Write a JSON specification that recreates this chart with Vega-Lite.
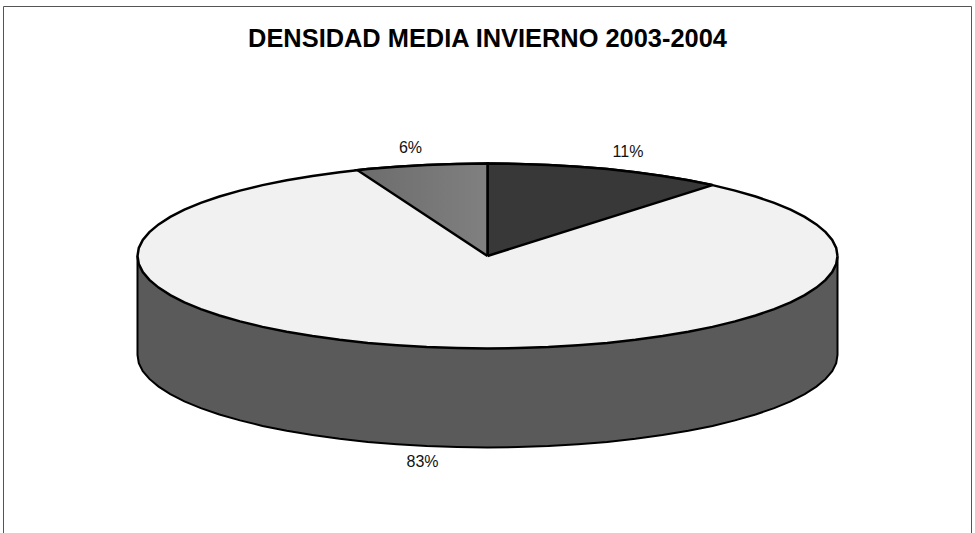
{"$schema":"https://vega.github.io/schema/vega-lite/v6.json","width":975,"height":533,"padding":0,"autosize":"none","background":"white","view":{"stroke":null},
"title":{"text":"DENSIDAD MEDIA INVIERNO 2003-2004","offset":-72.5,"baseline":"alphabetic","anchor":"middle","font":"Liberation Sans","fontSize":25.4,"fontWeight":"bold","color":"black"},
"datasets":{
"labels":[{"label":"11%","share":11,"x":628,"y":157},{"label":"6%","share":6,"x":410.5,"y":152.7},{"label":"83%","share":83,"x":422.5,"y":467.3}],
"frame":[{"s":1,"x":3.5,"y":533},{"s":2,"x":3.5,"y":6.5},{"s":3,"x":971.5,"y":6.5},{"s":4,"x":971.5,"y":533}],
"side":[{"s":0,"x":137.5,"y":256},{"s":1,"x":137.5,"y":355},{"s":2,"x":138.8,"y":363.1},{"s":3,"x":142.8,"y":371.1},{"s":4,"x":149.4,"y":378.9},{"s":5,"x":158.6,"y":386.6},{"s":6,"x":170.3,"y":394.1},{"s":7,"x":184.4,"y":401.3},{"s":8,"x":200.8,"y":408.1},{"s":9,"x":219.4,"y":414.5},{"s":10,"x":240,"y":420.4},{"s":11,"x":262.5,"y":425.9},{"s":12,"x":286.7,"y":430.8},{"s":13,"x":312.5,"y":435.1},{"s":14,"x":339.6,"y":438.8},{"s":15,"x":367.8,"y":441.9},{"s":16,"x":396.9,"y":444.3},{"s":17,"x":426.7,"y":446.1},{"s":18,"x":457,"y":447.1},{"s":19,"x":487.5,"y":447.5},{"s":20,"x":518,"y":447.1},{"s":21,"x":548.3,"y":446.1},{"s":22,"x":578.1,"y":444.3},{"s":23,"x":607.2,"y":441.9},{"s":24,"x":635.4,"y":438.8},{"s":25,"x":662.5,"y":435.1},{"s":26,"x":688.3,"y":430.8},{"s":27,"x":712.5,"y":425.9},{"s":28,"x":735,"y":420.4},{"s":29,"x":755.6,"y":414.5},{"s":30,"x":774.2,"y":408.1},{"s":31,"x":790.6,"y":401.3},{"s":32,"x":804.7,"y":394.1},{"s":33,"x":816.4,"y":386.6},{"s":34,"x":825.6,"y":378.9},{"s":35,"x":832.2,"y":371.1},{"s":36,"x":836.2,"y":363.1},{"s":37,"x":837.5,"y":355},{"s":38,"x":837.5,"y":256}],
"top":[{"s":0,"x":837.5,"y":256},{"s":1,"x":836.2,"y":247.9},{"s":2,"x":832.2,"y":239.9},{"s":3,"x":825.6,"y":232.1},{"s":4,"x":816.4,"y":224.4},{"s":5,"x":804.7,"y":216.9},{"s":6,"x":790.6,"y":209.7},{"s":7,"x":774.2,"y":202.9},{"s":8,"x":755.6,"y":196.5},{"s":9,"x":735,"y":190.6},{"s":10,"x":712.5,"y":185.1},{"s":11,"x":688.3,"y":180.2},{"s":12,"x":662.5,"y":175.9},{"s":13,"x":635.4,"y":172.2},{"s":14,"x":607.2,"y":169.1},{"s":15,"x":578.1,"y":166.7},{"s":16,"x":548.3,"y":164.9},{"s":17,"x":518,"y":163.9},{"s":18,"x":487.5,"y":163.5},{"s":19,"x":457,"y":163.9},{"s":20,"x":426.7,"y":164.9},{"s":21,"x":396.9,"y":166.7},{"s":22,"x":367.8,"y":169.1},{"s":23,"x":339.6,"y":172.2},{"s":24,"x":312.5,"y":175.9},{"s":25,"x":286.7,"y":180.2},{"s":26,"x":262.5,"y":185.1},{"s":27,"x":240,"y":190.6},{"s":28,"x":219.4,"y":196.5},{"s":29,"x":200.8,"y":202.9},{"s":30,"x":184.4,"y":209.7},{"s":31,"x":170.3,"y":216.9},{"s":32,"x":158.6,"y":224.4},{"s":33,"x":149.4,"y":232.1},{"s":34,"x":142.8,"y":239.9},{"s":35,"x":138.8,"y":247.9},{"s":36,"x":137.5,"y":256},{"s":37,"x":138.8,"y":264.1},{"s":38,"x":142.8,"y":272.1},{"s":39,"x":149.4,"y":279.9},{"s":40,"x":158.6,"y":287.6},{"s":41,"x":170.3,"y":295.1},{"s":42,"x":184.4,"y":302.3},{"s":43,"x":200.8,"y":309.1},{"s":44,"x":219.4,"y":315.5},{"s":45,"x":240,"y":321.4},{"s":46,"x":262.5,"y":326.9},{"s":47,"x":286.7,"y":331.8},{"s":48,"x":312.5,"y":336.1},{"s":49,"x":339.6,"y":339.8},{"s":50,"x":367.8,"y":342.9},{"s":51,"x":396.9,"y":345.3},{"s":52,"x":426.7,"y":347.1},{"s":53,"x":457,"y":348.1},{"s":54,"x":487.5,"y":348.5},{"s":55,"x":518,"y":348.1},{"s":56,"x":548.3,"y":347.1},{"s":57,"x":578.1,"y":345.3},{"s":58,"x":607.2,"y":342.9},{"s":59,"x":635.4,"y":339.8},{"s":60,"x":662.5,"y":336.1},{"s":61,"x":688.3,"y":331.8},{"s":62,"x":712.5,"y":326.9},{"s":63,"x":735,"y":321.4},{"s":64,"x":755.6,"y":315.5},{"s":65,"x":774.2,"y":309.1},{"s":66,"x":790.6,"y":302.3},{"s":67,"x":804.7,"y":295.1},{"s":68,"x":816.4,"y":287.6},{"s":69,"x":825.6,"y":279.9},{"s":70,"x":832.2,"y":272.1},{"s":71,"x":836.2,"y":264.1},{"s":72,"x":837.5,"y":256}],
"dark":[{"s":0,"x":487.5,"y":256},{"s":1,"x":487.5,"y":163.5},{"s":2,"x":518,"y":163.9},{"s":3,"x":548.3,"y":164.9},{"s":4,"x":578.1,"y":166.7},{"s":5,"x":607.2,"y":169.1},{"s":6,"x":635.4,"y":172.2},{"s":7,"x":662.5,"y":175.9},{"s":8,"x":688.3,"y":180.2},{"s":9,"x":712.5,"y":185.1},{"s":10,"x":487.5,"y":256}],
"gray":[{"s":0,"x":487.5,"y":256},{"s":1,"x":357.5,"y":170.2},{"s":2,"x":367.8,"y":169.1},{"s":3,"x":396.9,"y":166.7},{"s":4,"x":426.7,"y":164.9},{"s":5,"x":457,"y":163.9},{"s":6,"x":487.5,"y":163.5},{"s":7,"x":487.5,"y":256}]
},
"encoding":{
"x":{"field":"x","type":"quantitative","scale":{"domain":[0,975],"nice":false,"zero":false},"axis":null},
"y":{"field":"y","type":"quantitative","scale":{"domain":[533,0],"nice":false,"zero":false},"axis":null},
"order":{"field":"s","type":"quantitative"}},
"layer":[
{"data":{"name":"frame"},"mark":{"type":"line","stroke":"#555555","strokeWidth":1}},
{"data":{"name":"side"},"mark":{"type":"line","fill":"#5a5a5a","stroke":"black","strokeWidth":2}},
{"data":{"name":"top"},"mark":{"type":"line","fill":"#f1f1f1","stroke":"black","strokeWidth":2.5}},
{"data":{"name":"dark"},"mark":{"type":"line","fill":"#383838","stroke":"black","strokeWidth":2.5}},
{"data":{"name":"gray"},"mark":{"type":"line","fill":{"gradient":"linear","x1":0,"y1":0,"x2":1,"y2":0,"stops":[{"offset":0,"color":"#6c6c6c"},{"offset":1,"color":"#808080"}]},"stroke":"black","strokeWidth":2.5}},
{"data":{"name":"labels"},"mark":{"type":"text","font":"Liberation Sans","fontSize":16,"color":"#111111","align":"center","baseline":"alphabetic"},"encoding":{"text":{"field":"label","type":"nominal"},"order":null}}
]}
